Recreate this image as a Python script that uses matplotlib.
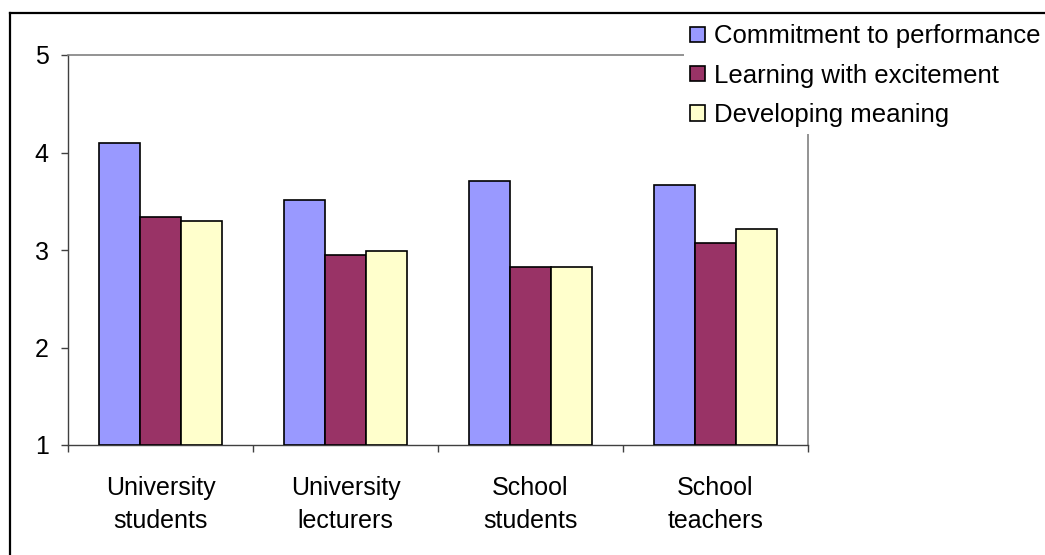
import matplotlib
matplotlib.use("Agg")
import matplotlib.pyplot as plt
from matplotlib.patches import Rectangle
from matplotlib.lines import Line2D
import numpy as np

plt.rcParams['font.family'] = ['Liberation Sans', 'DejaVu Sans']

categories = ["University\nstudents", "University\nlecturers", "School\nstudents", "School\nteachers"]
series_names = ["Commitment to performance", "Learning with excitement", "Developing meaning"]
commitment = [4.10, 3.51, 3.71, 3.67]
learning = [3.34, 2.95, 2.83, 3.07]
meaning = [3.30, 2.99, 2.83, 3.22]
colors = ["#9999FF", "#993366", "#FFFFCC"]
yticks = [1, 2, 3, 4, 5]

W, H = 1045, 555
fig = plt.figure(figsize=(W / 100, H / 100), dpi=100)
ax = fig.add_axes([68 / W, 1 - 445 / H, (808 - 68) / W, (445 - 55) / H])

x = np.arange(len(categories))
bw = 0.223
handles = []
for i, (vals, c) in enumerate(zip([commitment, learning, meaning], colors)):
    ax.bar(x + (i - 1) * bw, np.array(vals) - 1, bottom=1, width=bw, color=c,
           edgecolor='black', linewidth=1.2, zorder=3)
    handles.append(Rectangle((0, 0), 1, 1, facecolor=c, edgecolor='black', linewidth=1.2))

ax.set_xlim(-0.5, len(categories) - 0.5)
ax.set_ylim(1, 5)
ax.set_yticks(yticks)
ax.set_yticklabels([str(t) for t in yticks])
ax.tick_params(axis='y', direction='out', length=5, width=1, color='#404040', pad=9, labelsize=18)

ax.set_xticks(np.arange(len(categories) + 1) - 0.5)
ax.set_xticklabels([])
ax.tick_params(axis='x', which='major', direction='out', length=5, width=1, color='#404040')
ax.set_xticks(x, minor=True)
ax.set_xticklabels(categories, minor=True, linespacing=1.5)
ax.tick_params(axis='x', which='minor', length=0, pad=22, labelsize=18)

for s in ['left', 'bottom']:
    ax.spines[s].set_color('#404040')
    ax.spines[s].set_linewidth(1)
for s in ['top', 'right']:
    ax.spines[s].set_color('#808080')
    ax.spines[s].set_linewidth(1.2)

leg = fig.legend(handles, series_names, loc='upper left', bbox_to_anchor=(684 / W, 1 - 18 / H),
                 borderaxespad=0, fontsize=18.5, handlelength=0.55, handleheight=0.55,
                 handletextpad=0.35, labelspacing=0.6, borderpad=0.25,
                 frameon=True, fancybox=False, framealpha=1)
leg.get_frame().set_facecolor('white')
leg.get_frame().set_edgecolor('none')

# outer border (top and left edges)
fig.add_artist(Line2D([10 / W, 1], [1 - 12.5 / H, 1 - 12.5 / H], color='black', linewidth=1.6,
                      transform=fig.transFigure, solid_capstyle='projecting'))
fig.add_artist(Line2D([10 / W, 10 / W], [0, 1 - 12.5 / H], color='black', linewidth=1.6,
                      transform=fig.transFigure, solid_capstyle='projecting'))

fig.savefig("out.png", dpi=100)
